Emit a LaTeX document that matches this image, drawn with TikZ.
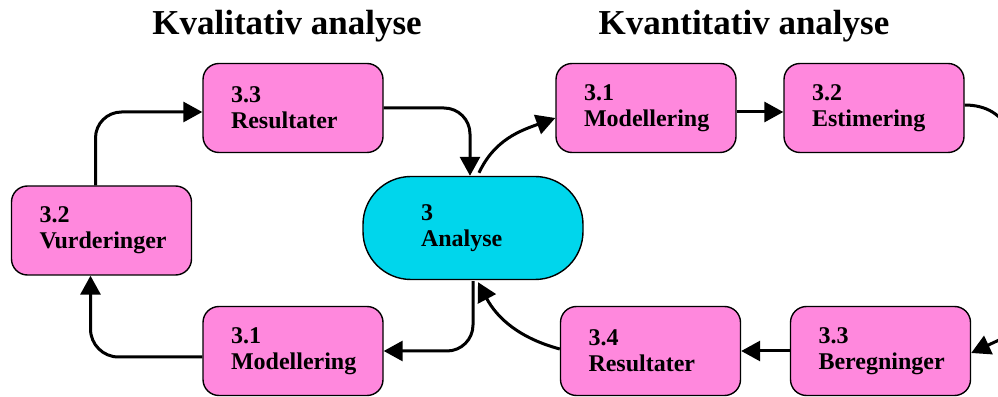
\documentclass[tikz,border=0pt]{standalone}
\usepackage{fontspec}
\setmainfont{Liberation Serif}
\usetikzlibrary{arrows.meta,calc}
\definecolor{boxpink}{RGB}{255,136,221}
\definecolor{hubcyan}{RGB}{0,214,236}
\hyphenpenalty=10000
\exhyphenpenalty=10000
\begin{document}
\begin{tikzpicture}[x=1pt,y=1pt,
  labelfont/.style={font=\fontsize{24}{26}\selectfont\bfseries},
  stepbox/.style={labelfont, draw=black, line width=1.4pt, fill=boxpink, rounded corners=16pt,
    minimum width=180pt, minimum height=89pt, inner xsep=28pt, text width=124pt,
    align=left},
  hubbox/.style={labelfont, draw=black, line width=1.4pt, fill=hubcyan, rounded corners=48pt,
    minimum width=220pt, minimum height=103pt, inner xsep=58pt, text width=104pt,
    align=left},
  heading/.style={font=\fontsize{35}{40}\selectfont\bfseries},
  conn/.style={draw=black, line width=3pt, -{Triangle[length=19pt,width=20pt]}},
  plain/.style={draw=black, line width=3pt}]
\useasboundingbox (0,0) rectangle (998,396);
\clip (0,0) rectangle (998,396);

% headings
\node[heading, anchor=base] (hq) at (287,361) {Kvalitativ analyse};
\node[heading, anchor=base] (hk) at (744,361) {Kvantitativ analyse};

% central hub
\node[hubbox] (hub) at (473,168) {3\\Analyse};

% qualitative cycle
\node[stepbox] (L33) at (293,288) {3.3\\Resultater};
\node[stepbox] (L32) at (101.5,165.5) {3.2\\Vurderinger};
\node[stepbox] (L31) at (293,45) {3.1\\Modellering};

% quantitative cycle
\node[stepbox] (R31) at (646,288) {3.1\\Modellering};
\node[stepbox] (R32) at (874,288) {3.2\\Estimering};
\node[stepbox] (R33) at (880.5,45) {3.3\\Beregninger};
\node[stepbox] (R34) at (650.5,45) {3.4\\Resultater};

% loose ends leaving and entering at the right edge
\coordinate (rOut) at (1010,262);
\coordinate (rIn) at (1012,62);

% qualitative connectors
\draw[conn, rounded corners=26pt] ($(L32.north)+(-6,0)$) |- ($(L33.west)+(0,-4)$);
\draw[conn, rounded corners=26pt] (L33.east) -| ($(hub.north)+(-3,0)$);
\draw[conn, rounded corners=26pt] ($(hub.south)+(0,-1)$) |- (L31.east);
\draw[conn, rounded corners=28pt] ($(L31.west)+(0,-6)$) -| ($(L32.south)+(-11,0)$);

% quantitative connectors
\draw[conn] ($(hub.north)+(6,3)$) to[out=65,in=200] ($(R31.west)+(0,-10)$);
\draw[conn] ($(R31.east)+(0,-4)$) -- ($(R32.west)+(0,-4)$);
\draw[plain] ($(R32.east)+(0,3)$) to[out=0,in=110] (rOut);
\draw[conn] (rIn) -- ($(R33.east)+(0,-2)$);
\draw[conn] (R33.west) -- (R34.east);
\draw[conn] ($(R34.west)+(0,2)$) to[out=165,in=-62] ($(hub.south)+(5,-2)$);
\end{tikzpicture}
\end{document}
